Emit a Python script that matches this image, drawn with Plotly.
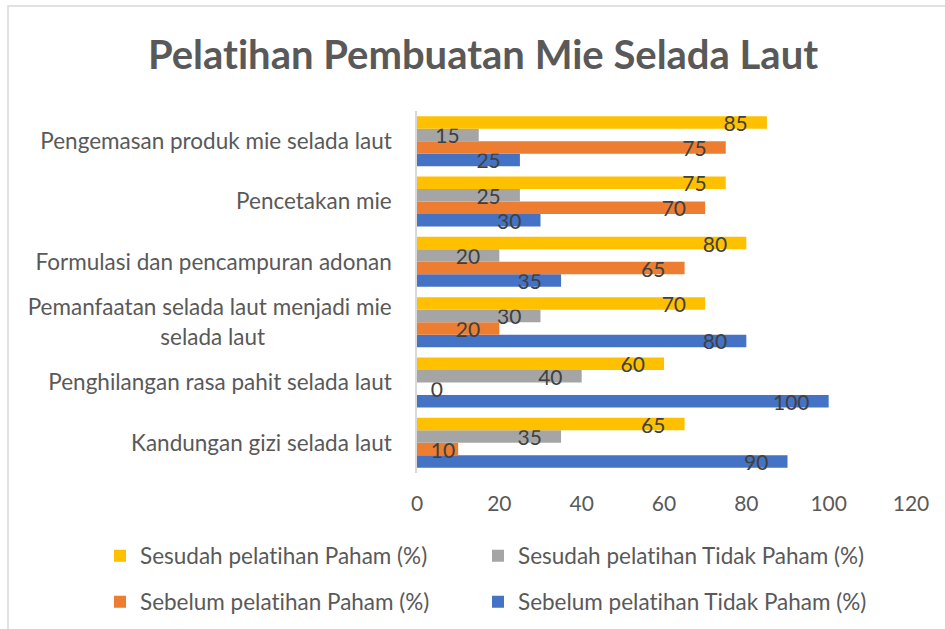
import plotly.graph_objects as go

ZWNJ = "\u200c"  # keeps the "t"+"i" letters from fusing into a ligature

categories = [
    "Kandungan gizi selada laut",
    "Penghilangan rasa pahit selada laut",
    "Pemanfaatan selada laut menjadi mie<br>selada laut" + "&nbsp;" * 22,
    "Formulasi dan pencampuran adonan",
    "Pencetakan mie",
    "Pengemasan produk mie selada laut",
]

sebelum_tidak_paham = [90, 100, 80, 35, 30, 25]
sebelum_paham = [10, 0, 20, 65, 70, 75]
sesudah_tidak_paham = [35, 40, 30, 20, 25, 15]
sesudah_paham = [65, 60, 70, 80, 75, 85]

series = [
    ("Sebelum pelat" + ZWNJ + "ihan Tidak Paham (%)", sebelum_tidak_paham, "#4472C4", "legend4"),
    ("Sebelum pelat" + ZWNJ + "ihan Paham (%)", sebelum_paham, "#ED7D31", "legend3"),
    ("Sesudah pelat" + ZWNJ + "ihan Tidak Paham (%)", sesudah_tidak_paham, "#A5A5A5", "legend2"),
    ("Sesudah pelat" + ZWNJ + "ihan Paham (%)", sesudah_paham, "#FFC000", "legend"),
]

x_ticks = [0, 20, 40, 60, 80, 100, 120]

FONT = "Lato, 'Open Sans', sans-serif"
TXT = "#595959"
NB = "\u00a0"


def label(v):
    if v == 0:
        return NB * 2 + str(v)
    if v < 15:
        return str(v)
    return str(v) + NB * 3


fig = go.Figure()
for name, vals, color, leg in series:
    texts = [label(v) for v in vals]
    positions = ["outside" if v == 0 else "inside" for v in vals]
    fig.add_trace(go.Bar(
        y=categories, x=vals, orientation="h", name=name,
        marker=dict(color=color, line=dict(width=0)),
        text=texts, textposition=positions, insidetextanchor="end",
        textangle=0, constraintext="none", cliponaxis=False,
        textfont=dict(family=FONT, size=21, color="#404040"),
        insidetextfont=dict(family=FONT, size=21, color="#404040"),
        outsidetextfont=dict(family=FONT, size=21, color="#404040"),
        legend=leg, showlegend=True, hoverinfo="skip",
    ))

LEGFONT = dict(family=FONT, size=22.5, color=TXT)


def leg(xpx, ypx):
    return dict(
        orientation="h", xref="container", yref="container",
        x=xpx / 945, xanchor="left", y=1 - ypx / 629, yanchor="middle",
        font=LEGFONT, bgcolor="rgba(0,0,0,0)", visible=True,
    )


fig.update_layout(
    width=945, height=629, showlegend=True,
    margin=dict(l=417, r=34, t=111, b=156, autoexpand=False),
    paper_bgcolor="white", plot_bgcolor="white",
    barmode="group", bargap=0.17, bargroupgap=0,
    font=dict(family=FONT, size=20, color=TXT),
    title=dict(
        text="<b>Pelat" + ZWNJ + "ihan Pembuatan Mie Selada Laut</b>",
        font=dict(family=FONT, size=40, color=TXT),
        x=483 / 945, xanchor="center", xref="container",
        y=1 - 55 / 629, yanchor="middle", yref="container",
    ),
    xaxis=dict(
        range=[0, 120], tickvals=x_ticks, showgrid=False, zeroline=False,
        showline=False, ticks="", ticklabelstandoff=16, automargin=False,
        tickfont=dict(family=FONT, size=21, color=TXT), fixedrange=True,
    ),
    yaxis=dict(
        type="category", showgrid=False, zeroline=False,
        showline=True, linecolor="#D9D9D9", linewidth=1.5,
        ticks="", ticklabelstandoff=19, automargin=False,
        tickfont=dict(family=FONT, size=22.5, color=TXT), fixedrange=True,
    ),
    legend=leg(100, 556),
    legend2=leg(478, 556),
    legend3=leg(100, 602),
    legend4=leg(478, 602),
    shapes=[dict(
        type="rect", xref="paper", yref="paper",
        x0=(8 - 417) / 494, x1=1.2, y0=-0.6, y1=(473 - 6) / 362,
        line=dict(color="#D9D9D9", width=1.5), fillcolor="rgba(0,0,0,0)",
        layer="below",
    )],
)

fig.write_html(
    "out.html",
    config={"displayModeBar": False},
    post_script="document.body.style.margin='0';document.body.style.overflow='hidden';",
)
